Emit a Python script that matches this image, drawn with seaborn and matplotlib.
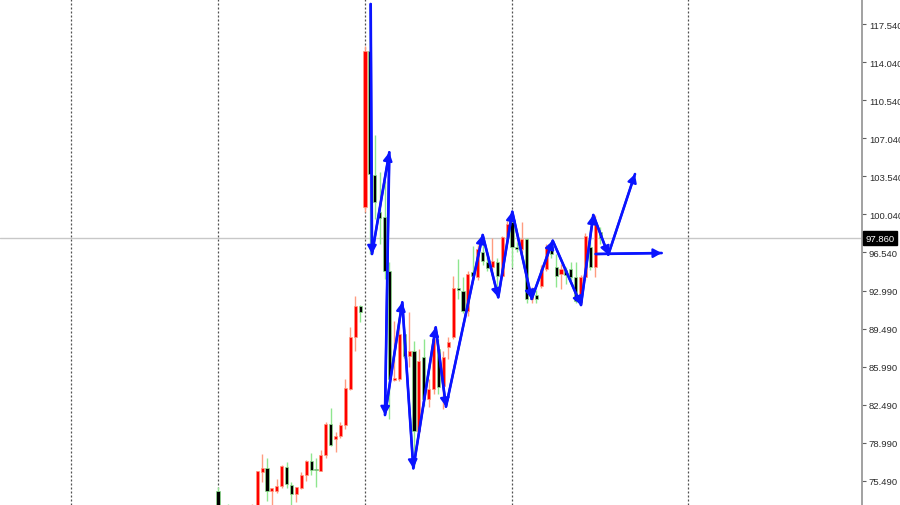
import numpy as np
import pandas as pd
import matplotlib
matplotlib.use("Agg")
import matplotlib.pyplot as plt
import matplotlib.transforms as mtransforms
import seaborn as sns

nan = np.nan
# candle index (bar number), open, high, low, close
bar_idx = list(range(0, 79))
opens = [74.62, nan, 73.00, nan, nan, nan, nan, 72.60, 72.90, 76.40,
         76.70, 74.65, 74.65, 75.05, 76.80, 75.20, 74.34, 74.87, 76.09, 77.35,
         76.57, 76.50, 77.95, 80.78, 79.40, 79.64, 80.68, 83.99, 88.74, 91.59,
         100.69, 115.09, 103.66, 100.30, 99.77, 94.87, 84.80, 84.91, 89.05, 87.00,
         87.50, 80.16, 86.90, 83.08, 83.99, 87.67, 84.30, 87.83, 88.74, 93.25,
         93.03, 91.19, 94.77, 94.26, 96.56, 95.69, 95.17, 95.69, 94.41, 97.93,
         99.32, 97.02, 96.86, 97.78, 92.27, 92.60, 93.49, 95.02, 97.17, 95.17,
         94.56, 94.90, 95.02, 94.26, 91.96, 94.26, 97.02, 95.17, 98.40]
highs = [75.01, nan, 73.38, nan, nan, nan, nan, 73.38, 76.50, 78.02,
         77.62, 74.90, 75.72, 77.00, 77.28, 75.42, 75.00, 76.34, 77.49, 78.11,
         77.65, 78.39, 80.93, 82.22, 80.01, 80.93, 84.91, 89.66, 92.57, 91.71,
         115.55, 119.38, 107.34, 103.90, 103.10, 95.70, 90.27, 90.27, 89.50, 91.10,
         88.43, 87.67, 88.59, 84.91, 89.66, 88.59, 87.50, 88.74, 94.41, 95.94,
         94.26, 94.87, 97.17, 97.20, 98.00, 96.25, 97.84, 96.00, 98.10, 99.46,
         100.29, 97.50, 99.32, 97.90, 93.40, 93.10, 95.40, 97.30, 97.63, 96.40,
         95.48, 95.20, 95.70, 95.63, 94.50, 98.30, 98.70, 100.00, 98.90]
lows = [72.50, nan, 72.50, nan, nan, nan, nan, 72.30, 72.60, 75.40,
        73.67, 73.33, 74.40, 74.90, 74.87, 73.00, 73.60, 74.80, 75.57, 76.12,
        74.96, 76.45, 77.65, 78.78, 78.17, 79.50, 80.32, 83.90, 87.46, 90.18,
        100.26, 96.40, 99.60, 97.30, 94.10, 81.24, 84.70, 84.70, 86.80, 85.98,
        76.80, 80.00, 82.46, 82.31, 83.50, 83.53, 82.15, 86.76, 88.60, 92.27,
        91.00, 90.73, 94.00, 94.00, 95.40, 94.87, 94.41, 92.42, 94.30, 97.50,
        95.17, 96.60, 96.50, 91.90, 91.90, 91.90, 93.30, 94.80, 96.00, 93.34,
        93.18, 93.60, 94.00, 91.90, 91.71, 94.00, 94.90, 94.26, 97.30]
closes = [72.80, nan, 72.70, nan, nan, nan, nan, 73.00, 76.43, 76.70,
          74.65, 74.87, 75.05, 76.89, 75.26, 74.34, 74.96, 76.09, 77.35, 76.57,
          76.55, 77.95, 80.78, 78.87, 79.70, 80.71, 84.05, 88.74, 91.59, 91.10,
          115.09, 103.75, 101.15, 99.70, 94.87, 84.91, 85.00, 89.05, 87.05, 87.50,
          80.16, 86.60, 83.08, 83.99, 88.59, 84.15, 86.90, 88.34, 93.25, 93.10,
          91.19, 94.56, 94.35, 96.86, 95.78, 95.08, 95.78, 94.41, 97.93, 99.16,
          97.02, 96.90, 97.78, 92.27, 93.18, 92.30, 95.02, 97.02, 96.40, 94.41,
          95.02, 94.50, 94.26, 92.11, 94.26, 98.08, 95.17, 99.16, 97.86]

# hand-drawn zigzag (bar position, price)
zz_x = [31.16, 31.43, 34.96, 34.08, 37.61, 39.86, 44.43, 46.53, 54.02, 57.20,
        60.06, 64.02, 68.31, 74.08, 76.59, 79.65, 85.10]
zz_y = [119.38, 96.40, 105.75, 81.60, 91.96, 76.70, 89.66, 82.37, 98.15, 92.42,
        100.29, 92.27, 97.63, 91.71, 99.99, 96.33, 103.75]
flat_x = [77.08, 90.55]
flat_y = [96.40, 96.49]

separators = [-30, 0, 30, 60, 96]
current_price = 97.86
tick_pos = [117.54, 114.04, 110.54, 107.04, 103.54, 100.04, 96.54, 93.04,
            89.54, 86.04, 82.54, 79.04, 75.54]
tick_labels = ["117.540", "114.040", "110.540", "107.040", "103.540", "100.040",
               "96.540", "92.990", "89.490", "85.990", "82.490", "78.990", "75.490"]

df = pd.DataFrame({"i": bar_idx, "o": opens, "h": highs, "l": lows, "c": closes}).dropna()

sns.set_style("white")
plt.rcParams["font.family"] = ["Liberation Sans", "DejaVu Sans"]

fig = plt.figure(figsize=(9.0, 5.06), dpi=100)
ax = fig.add_axes([0.0, 0.0, 862 / 900, 1.0])
ax.set_facecolor("white")

up = df["c"] >= df["o"]
wick_col = np.where(up, "#ff9c80", "#8fe68f")
body_col = np.where(up, "#ff0000", "#000000")

for s in separators:
    ax.axvline(s, color="#505050", lw=0.9, ls=(0, (1.6, 1.6)), zorder=1)
ax.axhline(current_price, color="#c8c8c8", lw=1.0, zorder=1)

ax.vlines(df["i"], df["l"], df["h"], colors=wick_col, lw=1.0, zorder=2)
heights = np.maximum((df["c"] - df["o"]).abs(), 0.12)
bottoms = np.minimum(df["o"], df["c"])
ax.bar(df["i"], heights, bottom=bottoms, width=0.62, color=body_col,
       edgecolor=wick_col, linewidth=0.5, zorder=3)

blue = "#0a14ff"
sns.lineplot(x=zz_x, y=zz_y, sort=False, estimator=None, color=blue, lw=1.9, ax=ax, zorder=5)
sns.lineplot(x=flat_x, y=flat_y, sort=False, estimator=None, color=blue, lw=1.9, ax=ax, zorder=5)
segs = list(zip(zip(zz_x[:-1], zz_y[:-1]), zip(zz_x[1:], zz_y[1:])))
segs.append(((flat_x[0], flat_y[0]), (flat_x[1], flat_y[1])))
for a, b in segs:
    ax.annotate("", xy=b, xytext=a,
                arrowprops=dict(arrowstyle="-|>,head_length=0.55,head_width=0.3",
                                color=blue, lw=1.6, shrinkA=0, shrinkB=0,
                                mutation_scale=9), zorder=6)

ax.set_xlim(-44.49, 131.43)
ax.set_ylim(73.33, 119.84)

for sp in ["top", "left", "bottom"]:
    ax.spines[sp].set_visible(False)
ax.spines["right"].set_color("#9a9a9a")
ax.spines["right"].set_linewidth(1.3)
ax.set_xticks([])
ax.yaxis.tick_right()
ax.set_yticks(tick_pos)
ax.set_yticklabels(tick_labels)
ax.tick_params(axis="y", which="both", right=True, length=3, width=0.8,
               color="#606060", labelsize=6.8, labelcolor="#2a2a2a", pad=2)

trans = mtransforms.blended_transform_factory(ax.transAxes, ax.transData)
ax.text(1.004, current_price, "97.860", transform=trans, fontsize=6.8, color="white",
        va="center", ha="left", clip_on=False, zorder=10,
        bbox=dict(boxstyle="square,pad=0.25", fc="black", ec="black"))

fig.savefig("out.png", dpi=100)
